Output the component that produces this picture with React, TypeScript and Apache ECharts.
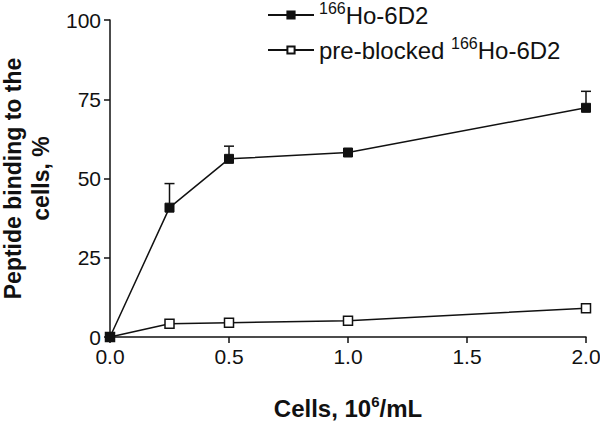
import React, { useEffect, useRef } from "react";
import * as echarts from "echarts";

const cells = [0, 0.25, 0.5, 1.0, 2.0];
const hoValues = [0, 40.8, 56.2, 58.2, 72.3];
const hoErrors = [0, 7.6, 4.0, 0, 5.2];
const blockedValues = [0, 4.2, 4.5, 5.1, 9.1];
const xTicks = [0, 0.5, 1.0, 1.5, 2.0];
const yTicks = [0, 25, 50, 75, 100];

const FONT = "'Liberation Sans', Arial, Helvetica, sans-serif";

export default function App() {
  const ref = useRef<HTMLDivElement>(null);
  useEffect(() => {
    if (!ref.current) return;
    const chart = echarts.init(ref.current, null, { renderer: "svg" });
    const errData = cells.map((c, i) => [c, hoValues[i], hoValues[i] + hoErrors[i], hoErrors[i]]);
    chart.setOption({
      animation: false,
      textStyle: { fontFamily: FONT },
      grid: {
        left: 110,
        right: 14,
        top: 20,
        bottom: 87,
        containLabel: false,
        outerBoundsMode: "none",
      },
      legend: {
        orient: "vertical",
        left: 262,
        top: -5,
        itemWidth: 46,
        itemHeight: 9,
        itemGap: 8,
        data: ["ho", "blocked"],
        textStyle: {
          fontFamily: FONT,
          fontSize: 24,
          color: "#111",
          rich: {
            sup: { fontSize: 16, fontFamily: FONT, color: "#111", padding: [0, 0, 14, 0] },
          },
        },
        formatter: (name: string) =>
          name === "ho" ? "{sup|166}Ho-6D2" : "pre-blocked {sup|166}Ho-6D2",
      },
      xAxis: {
        type: "value",
        min: 0,
        max: 2,
        interval: 0.5,
        name: "Cells, 10{sup|6}/mL",
        nameLocation: "middle",
        nameGap: 57,
        nameTextStyle: {
          fontFamily: FONT,
          fontSize: 24,
          fontWeight: "bold",
          color: "#111",
          rich: {
            sup: { fontSize: 15, fontWeight: "bold", fontFamily: FONT, color: "#111", padding: [0, 0, 14, 0] },
          },
        },
        axisLine: { show: true, lineStyle: { color: "#111", width: 1.5 } },
        axisTick: { show: true, length: 6, lineStyle: { color: "#111", width: 1.5 } },
        axisLabel: {
          fontSize: 21,
          color: "#111",
          margin: 9,
          formatter: (v: number) => (xTicks.includes(v) ? v.toFixed(1) : ""),
        },
        splitLine: { show: false },
      },
      yAxis: {
        type: "value",
        min: 0,
        max: 100,
        interval: 25,
        name: "Peptide binding to the\ncells, %",
        nameLocation: "middle",
        nameRotate: 90,
        nameGap: 51,
        nameTextStyle: {
          fontFamily: FONT,
          fontSize: 23,
          fontWeight: "bold",
          color: "#111",
          lineHeight: 28,
        },
        axisLine: { show: true, lineStyle: { color: "#111", width: 1.5 } },
        axisTick: { show: true, length: 6, lineStyle: { color: "#111", width: 1.5 } },
        axisLabel: {
          fontSize: 21,
          color: "#111",
          margin: 9,
          formatter: (v: number) => (yTicks.includes(v) ? String(v) : ""),
        },
        splitLine: { show: false },
      },
      series: [
        {
          name: "blocked",
          type: "line",
          data: cells.map((c, i) => [c, blockedValues[i]]),
          symbol: "rect",
          symbolSize: 9,
          showAllSymbol: true,
          clip: false,
          lineStyle: { color: "#111", width: 1.5 },
          itemStyle: { color: "#fff", borderColor: "#111", borderWidth: 1.5 },
          z: 2,
        },
        {
          name: "ho",
          type: "line",
          data: cells.map((c, i) => [c, hoValues[i]]),
          symbol: "rect",
          symbolSize: 9,
          showAllSymbol: true,
          clip: false,
          lineStyle: { color: "#111", width: 1.5 },
          itemStyle: { color: "#111", borderColor: "#111", borderWidth: 1 },
          z: 3,
        },
        {
          name: "err",
          type: "custom",
          data: errData,
          z: 4,
          renderItem: (params: any, api: any) => {
            if (api.value(3) <= 0) return null;
            const base = api.coord([api.value(0), api.value(1)]);
            const top = api.coord([api.value(0), api.value(2)]);
            const half = 5;
            return {
              type: "group",
              children: [
                {
                  type: "line",
                  shape: { x1: base[0], y1: base[1] - 4, x2: top[0], y2: top[1] },
                  style: { stroke: "#111", lineWidth: 1.5 },
                },
                {
                  type: "line",
                  shape: { x1: top[0] - half, y1: top[1], x2: top[0] + half, y2: top[1] },
                  style: { stroke: "#111", lineWidth: 1.5 },
                },
              ],
            };
          },
        },
      ],
    });
    return () => chart.dispose();
  }, []);
  return <div ref={ref} style={{ width: 600, height: 424, position: "absolute", left: 0, top: 0 }} />;
}
